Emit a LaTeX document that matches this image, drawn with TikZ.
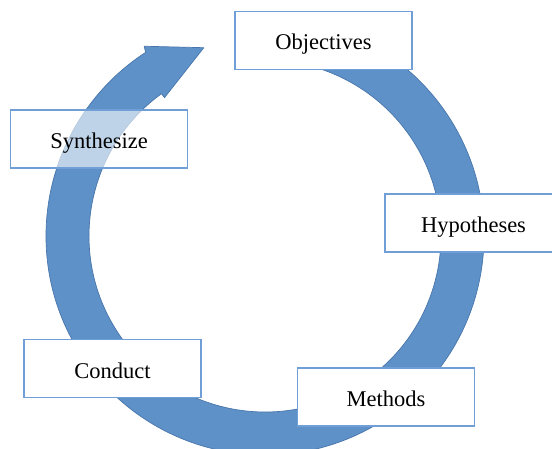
\documentclass[tikz,border=0pt]{standalone}
\usepackage{fontspec}
\setmainfont{Liberation Serif}
\usetikzlibrary{calc}
\definecolor{bandfill}{RGB}{94,145,199}
\definecolor{bandedge}{RGB}{72,118,172}
\definecolor{boxedge}{RGB}{112,158,214}
\tikzset{
  stagebox/.style={draw=boxedge, line width=1.3pt, fill=white,
    minimum width=177pt, minimum height=58pt, inner sep=0pt,
    text height=19pt, text depth=0pt,
    font=\fontsize{22.5}{27}\selectfont},
  band/.style={fill=bandfill, draw=bandedge, line width=0.7pt, line join=round}
}
\begin{document}
\begin{tikzpicture}[x=1pt,y=1pt]
  \clip (0,0) rectangle (552,-449);
  \fill[white] (0,0) rectangle (552,-449);
  \coordinate (c) at (265,-236);
  % circular arrow band, clockwise from the top, head at upper left
  \path[band]
    ($(c)+(85:219)$) arc[start angle=85, end angle=-237, radius=219]
    -- ($(c)+(122.5:225)$)
    -- ($(c)+(108:198)$)
    -- ($(c)+(126:171)$)
    -- ($(c)+(126:176)$) arc[start angle=-234, end angle=85, radius=176]
    -- cycle;
  % stage boxes
  \node[stagebox] (obj) at (323.5,-40.5) {Objectives};
  \node[stagebox] (hyp) at (473.5,-223) {Hypotheses};
  \node[stagebox] (met) at (386,-397) {Methods};
  \node[stagebox] (con) at (112.5,-368.5) {Conduct};
  \node[stagebox, fill opacity=0.6, text opacity=1] (syn) at (99,-139) {Synthesize};
\end{tikzpicture}
\end{document}
